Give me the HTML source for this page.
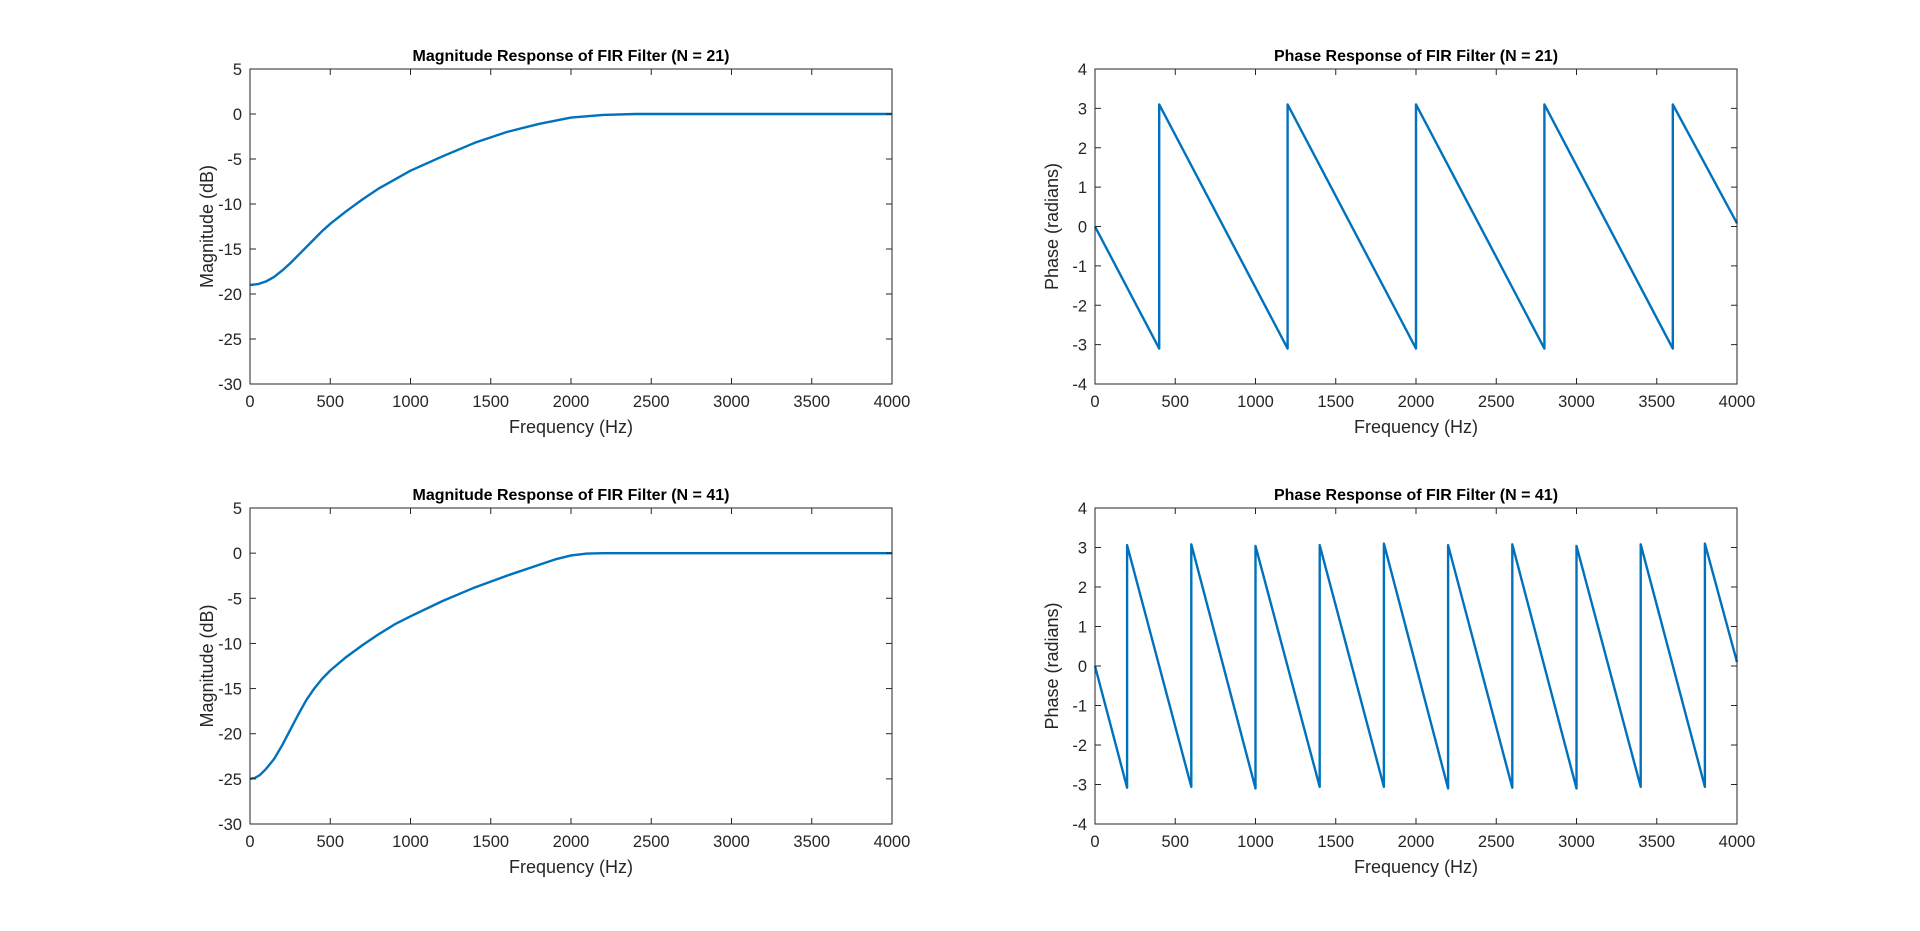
<!DOCTYPE html>
<html><head><meta charset="utf-8"><style>
body{margin:0;background:#fff;width:1920px;height:926px;overflow:hidden}
svg text{font-family:"Liberation Sans",Arial,sans-serif;fill:#262626}
</style></head><body>
<svg id="fig" width="1920" height="926" xmlns="http://www.w3.org/2000/svg"></svg>
<script>
// ---- data ----
const mag21Freq = [0,50,100,150,200,250,300,350,400,450,500,600,700,800,900,1000,1200,1400,1600,1800,2000,2200,2400,2600,3000,3500,4000];
const mag21Vals = [-19,-18.9,-18.6,-18.1,-17.4,-16.6,-15.7,-14.8,-13.9,-13.0,-12.2,-10.8,-9.5,-8.3,-7.3,-6.3,-4.7,-3.2,-2.0,-1.1,-0.4,-0.1,0,0,0,0,0];
const mag41Freq = [0,30,60,100,150,200,250,300,350,400,450,500,600,700,800,900,1000,1200,1400,1600,1800,1900,2000,2100,2200,2500,3000,4000];
const mag41Vals = [-25,-24.9,-24.6,-23.9,-22.8,-21.3,-19.6,-17.9,-16.3,-15.0,-13.9,-13.0,-11.5,-10.2,-9.0,-7.9,-7.0,-5.3,-3.8,-2.5,-1.3,-0.7,-0.25,-0.05,0,0,0,0];
const ph21Freq = [0,400,400,1200,1200,2000,2000,2800,2800,3600,3600,4000];
const ph21Vals = [0,-3.1,3.1,-3.1,3.1,-3.1,3.1,-3.1,3.1,-3.1,3.1,0.08];
const ph41Freq = [0,200,200,600,600,1000,1000,1400,1400,1800,1800,2200,2200,2600,2600,3000,3000,3400,3400,3800,3800,4000];
const ph41Vals = [0,-3.08,3.06,-3.06,3.08,-3.1,3.04,-3.06,3.06,-3.06,3.1,-3.1,3.06,-3.08,3.08,-3.1,3.04,-3.06,3.08,-3.06,3.1,0.1];
const xTicks = [0,500,1000,1500,2000,2500,3000,3500,4000];
const magTicks = [-30,-25,-20,-15,-10,-5,0,5];
const phTicks = [-4,-3,-2,-1,0,1,2,3,4];

const svg = document.getElementById('fig');
const NS = 'http://www.w3.org/2000/svg';
function mk(tag, attrs, parent){const e=document.createElementNS(NS,tag);for(const k in attrs)e.setAttribute(k,attrs[k]);(parent||svg).appendChild(e);return e;}

function panel(name, box, ymin, ymax, yt, fx, fy, title, ylabel){
  const g = mk('g',{});
  
  
  const [L,T,R,B] = box;
  const sx = v => L + (v-0)/(4000-0)*(R-L);
  const sy = v => B - (v-ymin)/(ymax-ymin)*(B-T);
  // line
  let d = '';
  fx.forEach((f,i)=>{ d += (i?'L':'M') + sx(f).toFixed(2) + ' ' + sy(fy[i]).toFixed(2); });
  const p = mk('path',{d:d,fill:'none',stroke:'#0072BD','stroke-width':2.4,'stroke-linejoin':'round'},g);
  
  
  // box
  const r = mk('rect',{x:L,y:T,width:R-L,height:B-T,fill:'none',stroke:'#262626','stroke-width':1},g);
  
  
  // x ticks
  xTicks.forEach(t=>{
    const x = sx(t);
    mk('line',{x1:x,x2:x,y1:B,y2:B-6,stroke:'#262626'},g);
    mk('line',{x1:x,x2:x,y1:T,y2:T+6,stroke:'#262626'},g);
    const tx = mk('text',{x:x,y:B+23,'text-anchor':'middle','font-size':16.5},g);
    tx.textContent = t;
    
    
  });
  yt.forEach(t=>{
    const y = sy(t);
    mk('line',{x1:L,x2:L+6,y1:y,y2:y,stroke:'#262626'},g);
    mk('line',{x1:R,x2:R-6,y1:y,y2:y,stroke:'#262626'},g);
    const tx = mk('text',{x:L-8,y:y+6,'text-anchor':'end','font-size':16.5},g);
    tx.textContent = t;
    
    
  });
  const ti = mk('text',{x:(L+R)/2,y:T-8,'text-anchor':'middle','font-size':16,'font-weight':'bold',style:'fill:#000'},g);
  ti.textContent = title;
  
  
  const xl = mk('text',{x:(L+R)/2,y:B+49,'text-anchor':'middle','font-size':18},g);
  xl.textContent = 'Frequency (Hz)';
  
  
  const cy = (T+B)/2, cx = L-37;
  const yl = mk('text',{x:cx,y:cy,'text-anchor':'middle','font-size':18,transform:'rotate(-90 '+cx+' '+cy+')'},g);
  yl.textContent = ylabel;
  
  
}
panel('magnitude-n21', [250,69,892,384], -30, 5, magTicks, mag21Freq, mag21Vals, 'Magnitude Response of FIR Filter (N = 21)', 'Magnitude (dB)');
panel('phase-n21', [1095,69,1737,384], -4, 4, phTicks, ph21Freq, ph21Vals, 'Phase Response of FIR Filter (N = 21)', 'Phase (radians)');
panel('magnitude-n41', [250,508,892,824], -30, 5, magTicks, mag41Freq, mag41Vals, 'Magnitude Response of FIR Filter (N = 41)', 'Magnitude (dB)');
panel('phase-n41', [1095,508,1737,824], -4, 4, phTicks, ph41Freq, ph41Vals, 'Phase Response of FIR Filter (N = 41)', 'Phase (radians)');
</script>
</body></html>
